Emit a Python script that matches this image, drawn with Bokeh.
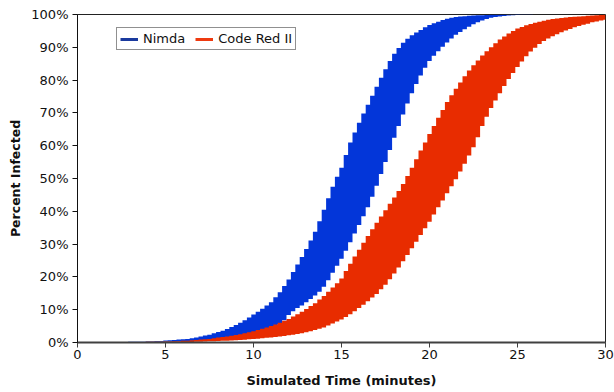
from bokeh.plotting import figure
from bokeh.models import (ColumnDataSource, Range1d, FixedTicker, PrintfTickFormatter,
                          Legend, LegendItem)
from bokeh.embed import file_html
from bokeh.resources import INLINE

# time grid in minutes (one sample every 15 s)
time_min = [i * 0.25 for i in range(121)]

nimda_upper = [
    0.1, 0.1, 0.1, 0.1, 0.1, 0.1, 0.1, 0.1, 0.1, 0.1, 0.1, 0.1,
    0.2, 0.2, 0.2, 0.2,
    0.3, 0.3, 0.4, 0.4,
    0.6, 0.7, 0.8, 0.9,
    1.0, 1.1, 1.3, 1.5,
    1.8, 2.1, 2.4, 2.8,
    3.2, 3.6, 4.1, 4.7,
    5.3, 6.0, 6.8, 7.6,
    8.5, 9.4, 10.3, 11.3,
    12.3, 13.8, 15.3, 17.2,
    19.2, 21.5, 23.8, 26.1,
    28.5, 31.1, 33.8, 37.0,
    40.5, 44.0, 47.5, 50.5,
    53.3, 57.2, 61.0, 64.0,
    67.0, 69.8, 72.5, 75.2,
    78.0, 80.7, 83.3, 85.8,
    88.0, 89.8, 91.4, 92.6,
    93.7, 94.5, 95.3, 96.1,
    96.8, 97.3, 97.8, 98.3,
    98.7, 99.0, 99.2, 99.4,
    99.5, 99.6, 99.7, 99.75,
    99.8, 99.85, 99.9, 99.9,
    99.95, 99.95, 99.95, 99.95,
    100, 100, 100, 100, 100, 100, 100, 100, 100, 100, 100,
    100, 100, 100, 100, 100, 100, 100, 100, 100, 100,
]

nimda_lower = [
    0, 0, 0, 0, 0, 0, 0, 0, 0, 0, 0, 0,
    0.05, 0.05, 0.05, 0.05,
    0.1, 0.1, 0.1, 0.15,
    0.2, 0.2, 0.25, 0.3,
    0.3, 0.35, 0.4, 0.5,
    0.6, 0.7, 0.8, 0.9,
    1.0, 1.15, 1.3, 1.45,
    1.6, 1.8, 2.0, 2.25,
    2.5, 2.8, 3.2, 3.6,
    4.0, 4.8, 5.6, 6.8,
    8.4, 9.5, 10.5, 11.3,
    12.3, 13.3, 14.3, 15.5,
    17.0, 19.0, 21.3, 23.4,
    25.5, 28.0, 30.6, 33.2,
    35.8, 38.5, 41.2, 44.4,
    47.8, 51.4, 55.0, 58.7,
    62.4, 66.0, 69.5, 72.9,
    76.0, 78.8, 81.4, 83.8,
    85.8, 87.4, 88.8, 90.2,
    91.5, 92.7, 93.8, 94.7,
    95.5, 96.3, 97.0, 97.6,
    98.2, 98.6, 99.0, 99.2,
    99.4, 99.55, 99.7, 99.8,
    99.85, 99.9, 99.9, 99.95,
    100, 100, 100, 100, 100, 100, 100, 100, 100, 100, 100,
    100, 100, 100, 100, 100, 100,
]

codered_upper = [
    0.1, 0.1, 0.1, 0.1, 0.1, 0.1, 0.1, 0.1, 0.1, 0.1, 0.1, 0.1,
    0.1, 0.1, 0.15, 0.15,
    0.2, 0.2, 0.2, 0.25,
    0.3, 0.3, 0.35, 0.4,
    0.5, 0.55, 0.65, 0.75,
    0.9, 1.0, 1.1, 1.3,
    1.5, 1.65, 1.8, 2.05,
    2.3, 2.55, 2.8, 3.1,
    3.4, 3.8, 4.2, 4.6,
    5.0, 5.5, 6.0, 6.6,
    7.2, 7.9, 8.6, 9.4,
    10.2, 11.1, 12.0, 13.1,
    14.2, 15.5, 16.8, 18.1,
    19.5, 21.8, 24.0, 26.2,
    28.3, 30.4, 32.5, 34.5,
    36.5, 38.4, 40.3, 42.3,
    44.2, 46.2, 48.3, 50.8,
    53.3, 55.9, 58.5, 61.0,
    63.6, 66.0, 68.5, 70.9,
    73.3, 75.4, 77.4, 79.3,
    81.2, 82.9, 84.5, 86.0,
    87.5, 88.8, 90.0, 91.2,
    92.4, 93.3, 94.2, 95.0,
    95.7, 96.2, 96.7, 97.1,
    97.5, 97.8, 98.1, 98.4,
    98.6, 98.8, 98.9, 99.1,
    99.2, 99.3, 99.4, 99.5,
    99.6, 99.7, 99.8, 99.85,
    99.9,
]

codered_lower = [
    0, 0, 0, 0, 0, 0, 0, 0, 0, 0,
    0, 0, 0, 0, 0, 0, 0, 0, 0, 0,
    0.0, 0.02, 0.05, 0.07,
    0.1, 0.13, 0.17, 0.21,
    0.25, 0.3, 0.35, 0.4,
    0.45, 0.5, 0.57, 0.63,
    0.7, 0.78, 0.87, 0.96,
    1.05, 1.15, 1.3, 1.42,
    1.55, 1.7, 1.85, 2.0,
    2.2, 2.4, 2.6, 2.85,
    3.1, 3.45, 3.8, 4.2,
    4.6, 5.2, 5.8, 6.4,
    7.0, 7.8, 8.6, 9.5,
    10.5, 11.5, 12.6, 13.7,
    14.8, 16.2, 17.6, 19.3,
    21.0, 22.9, 24.8, 26.7,
    28.7, 30.7, 32.8, 34.8,
    36.8, 39.0, 41.2, 43.3,
    45.5, 47.6, 49.8, 52.1,
    54.5, 57.0, 59.5, 62.6,
    66.0, 68.8, 71.5, 73.8,
    76.0, 78.2, 80.3, 82.2,
    84.0, 85.7, 87.3, 88.7,
    89.9, 91.0, 91.9, 92.7,
    93.4, 94.0, 94.6, 95.1,
    95.6, 96.1, 96.5, 96.9,
    97.2, 97.6, 97.9, 98.2,
    98.4,
]

series_names = ["Nimda", "Code Red II"]
x_ticks = [0, 5, 10, 15, 20, 25, 30]
y_ticks = [0, 10, 20, 30, 40, 50, 60, 70, 80, 90, 100]

FONT = "DejaVu Sans"
BLUE = "#0336D9"
RED = "#E82C00"
NAN = float("nan")

source = ColumnDataSource(data=dict(t=time_min, bu=nimda_upper, bl=nimda_lower,
                                    ru=codered_upper, rl=codered_lower))

p = figure(width=614, height=392, output_backend="svg", toolbar_location=None,
           x_range=Range1d(0, 30), y_range=Range1d(0, 100),
           min_border_left=77, min_border_right=9, min_border_top=14, min_border_bottom=50)

p.varea_step(x="t", y1="bl", y2="bu", step_mode="center", source=source,
             fill_color=BLUE, fill_alpha=1.0)
p.varea_step(x="t", y1="rl", y2="ru", step_mode="center", source=source,
             fill_color=RED, fill_alpha=1.0)

# legend proxies (no visible data)
l1 = p.line(x=[NAN], y=[NAN], line_color="#1A3A9E", line_width=3)
l2 = p.line(x=[NAN], y=[NAN], line_color="#EE3A10", line_width=3)

legend = Legend(items=[LegendItem(label=series_names[0], renderers=[l1]),
                       LegendItem(label=series_names[1], renderers=[l2])],
                orientation="horizontal", location=(39, 292),
                label_text_font=FONT, label_text_font_size="13px", label_text_color="#111111",
                glyph_width=18, glyph_height=14, label_height=14, label_standoff=5,
                spacing=10, padding=3, margin=0,
                border_line_color="#222222", border_line_width=1,
                background_fill_color="white", background_fill_alpha=1.0)
p.add_layout(legend)

p.grid.visible = False
p.outline_line_color = "#222222"
p.outline_line_width = 1
p.background_fill_color = "white"
p.border_fill_color = "white"

p.xaxis.ticker = FixedTicker(ticks=x_ticks)
p.yaxis.ticker = FixedTicker(ticks=y_ticks)
p.yaxis.formatter = PrintfTickFormatter(format="%d%%")

for ax in (p.xaxis[0], p.yaxis[0]):
    ax.major_label_text_font = FONT
    ax.major_label_text_font_size = "13px"
    ax.major_label_text_color = "#111111"
    ax.axis_label_text_font = FONT
    ax.axis_label_text_font_style = "bold"
    ax.axis_label_text_color = "#111111"
    ax.minor_tick_line_color = None
    ax.major_tick_in = 0
    ax.major_tick_out = 5

p.xaxis.axis_label = "Simulated Time (minutes)"
p.yaxis.axis_label = "Percent Infected"
p.xaxis.axis_label_text_font_size = "13px"
p.yaxis.axis_label_text_font_size = "12.5px"
p.xaxis.axis_line_color = "#404040"
p.xaxis.axis_line_width = 2
p.xaxis.major_tick_line_color = "#404040"
p.yaxis.axis_line_color = "#111111"
p.yaxis.major_tick_line_color = "#111111"
p.xaxis.major_label_standoff = 2
p.xaxis.axis_label_standoff = 11
p.yaxis.major_label_standoff = 4
p.yaxis.axis_label_standoff = 5

open("out.html", "w").write(file_html(p, INLINE))
